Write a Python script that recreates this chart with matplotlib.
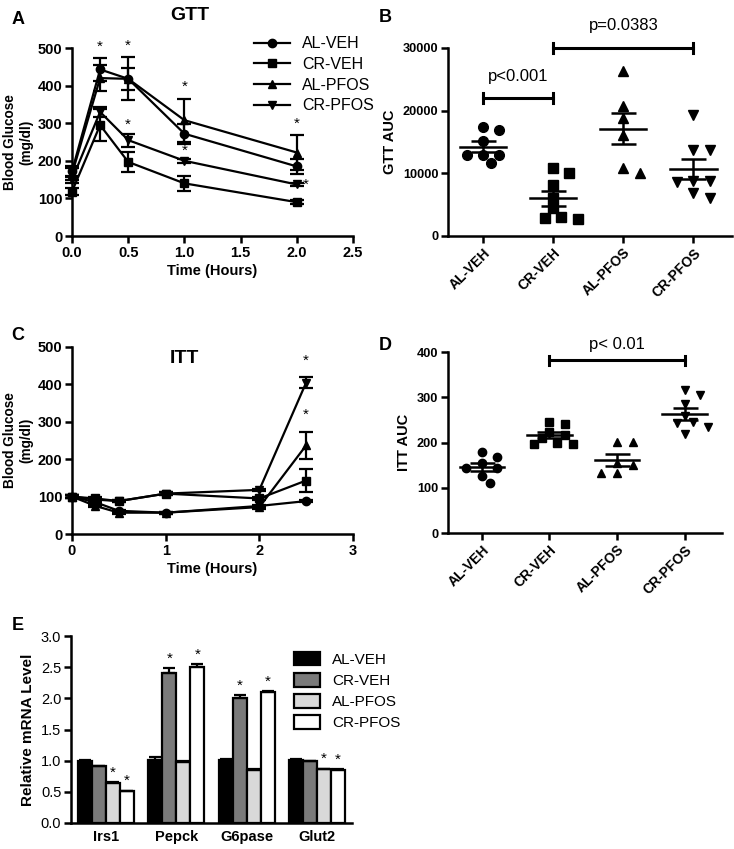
import numpy as np
import matplotlib.pyplot as plt
from matplotlib.lines import Line2D
from matplotlib.patches import Patch

plt.rcParams['font.family'] = ['Liberation Sans', 'DejaVu Sans']

groups = ['AL-VEH', 'CR-VEH', 'AL-PFOS', 'CR-PFOS']
markers = ['o', 's', '^', 'v']

# GTT (panel A)
gtt_time = [0, 0.25, 0.5, 1.0, 2.0]
gtt_mean = {
    'AL-VEH': [172, 443, 418, 272, 185],
    'CR-VEH': [118, 295, 197, 140, 90],
    'AL-PFOS': [165, 420, 418, 308, 222],
    'CR-PFOS': [150, 330, 255, 200, 137],
}
gtt_err = {
    'AL-VEH': [15, 30, 30, 27, 20],
    'CR-VEH': [10, 42, 27, 20, 5],
    'AL-PFOS': [15, 35, 57, 57, 46],
    'CR-PFOS': [10, 13, 17, 5, 5],
}

# ITT (panel C)
itt_time = [0, 0.25, 0.5, 1.0, 2.0, 2.5]
itt_mean = {
    'AL-VEH': [100, 85, 62, 57, 75, 88],
    'CR-VEH': [100, 95, 88, 108, 95, 143],
    'AL-PFOS': [100, 75, 57, 57, 72, 237],
    'CR-PFOS': [100, 92, 88, 108, 118, 405],
}
itt_err = {
    'AL-VEH': [3, 3, 3, 3, 3, 3],
    'CR-VEH': [3, 3, 3, 3, 5, 30],
    'AL-PFOS': [3, 3, 3, 3, 4, 37],
    'CR-PFOS': [3, 3, 3, 3, 3, 15],
}

# GTT AUC (panel B)
gtt_auc = {
    'AL-VEH': [17400, 16900, 15100, 12900, 13000, 12900, 11700],
    'CR-VEH': [10800, 10000, 8150, 6130, 4420, 3090, 2660, 2820],
    'AL-PFOS': [26270, 20780, 18810, 16150, 10020, 10820],
    'CR-PFOS': [19300, 13800, 13800, 8800, 8600, 8800, 6000, 6800],
}

# ITT AUC (panel D)
itt_auc = {
    'AL-VEH': [169, 180, 143, 143, 154, 126, 110],
    'CR-VEH': [241, 246, 224, 216, 198, 197, 197, 210],
    'AL-PFOS': [202, 202, 151, 154, 132, 132],
    'CR-PFOS': [316, 306, 284, 258, 243, 245, 234, 218],
}

# mRNA (panel E)
genes = ['Irs1', 'Pepck', 'G6pase', 'Glut2']
mrna_mean = {
    'AL-VEH': [1.00, 1.01, 1.01, 1.01],
    'CR-VEH': [0.91, 2.40, 2.01, 0.99],
    'AL-PFOS': [0.64, 0.98, 0.85, 0.86],
    'CR-PFOS': [0.51, 2.50, 2.10, 0.85],
}
mrna_err = {
    'AL-VEH': [0.01, 0.05, 0.01, 0.01],
    'CR-VEH': [0.01, 0.08, 0.04, 0.01],
    'AL-PFOS': [0.01, 0.02, 0.01, 0.01],
    'CR-PFOS': [0.01, 0.05, 0.01, 0.01],
}
mrna_star = {
    'AL-VEH': [0, 0, 0, 0],
    'CR-VEH': [0, 1, 1, 0],
    'AL-PFOS': [1, 0, 0, 1],
    'CR-PFOS': [1, 1, 1, 1],
}
bar_colors = ['black', '#7a7a7a', '#d9d9d9', 'white']

LW = 1.8


def style_axes(ax, bold_ticks=True, size=9):
    for s in ['top', 'right']:
        ax.spines[s].set_visible(False)
    for s in ['left', 'bottom']:
        ax.spines[s].set_linewidth(LW)
    ax.tick_params(width=LW, length=5, labelsize=size, pad=2)
    if bold_ticks:
        for lab in ax.get_xticklabels() + ax.get_yticklabels():
            lab.set_fontweight('bold')


def swarm(vals, ymax, h_px, w_px, size_px=9):
    vals = np.asarray(vals, float)
    order = np.argsort(vals)[::-1]
    placed = []
    offs = np.zeros(len(vals))
    for i in order:
        y = vals[i] / ymax * h_px
        for k in [0, 1, -1, 2, -2, 3, -3, 4, -4]:
            x = k * size_px * 0.9
            if all(np.hypot(x - px, y - py) >= size_px * 1.1 for px, py in placed):
                break
        placed.append((x, y))
        offs[i] = x / w_px
    return offs


def bracket(ax, x0, x1, y, text, ty):
    ax.plot([x0, x1], [y, y], color='black', lw=2.2, clip_on=False)
    h = ax.get_ylim()[1] * 0.025
    for xx in (x0, x1):
        ax.plot([xx, xx], [y - h, y + h], color='black', lw=2.2, clip_on=False)
    ax.text((x0 + x1) / 2, ty, text, ha='center', va='bottom', fontsize=12, clip_on=False)


def dot_panel(ax, data, ymax, h_px, msize):
    for i, g in enumerate(groups):
        v = np.array(data[g], float)
        offs = swarm(v, ymax, h_px, 70)
        ax.plot(i + offs, v, linestyle='none', marker=markers[i], color='black',
                markersize=msize, clip_on=False)
        m = v.mean()
        sem = v.std(ddof=1) / np.sqrt(len(v))
        ax.plot([i - 0.33, i + 0.33], [m, m], color='black', lw=1.8)
        ax.errorbar(i, m, yerr=sem, color='black', capsize=9, elinewidth=1.8,
                    capthick=1.8, fmt='none')
    ax.set_xticks(range(4))
    ax.set_xticklabels(groups, rotation=45, ha='right', rotation_mode='anchor')
    ax.set_xlim(-0.5, 3.55)
    ax.set_ylim(0, ymax)


fig = plt.figure(figsize=(7.34, 8.49), dpi=100)
W, H = 734.0, 849.0


def add_ax(x0, y0, x1, y1):
    return fig.add_axes([x0 / W, 1 - y1 / H, (x1 - x0) / W, (y1 - y0) / H])


# ---- A
axA = add_ax(72, 48, 353, 236)
for i, g in enumerate(groups):
    axA.errorbar(gtt_time, gtt_mean[g], yerr=gtt_err[g], color='black', marker=markers[i],
                 markersize=6, lw=1.6, capsize=5, elinewidth=1.6, capthick=1.6, clip_on=False)
axA.set_xlim(0, 2.5)
axA.set_ylim(0, 500)
axA.set_xticks(np.arange(0, 2.51, 0.5))
axA.set_yticks(range(0, 501, 100))
axA.set_xticklabels(['%.1f' % t for t in np.arange(0, 2.51, 0.5)])
axA.set_xlabel('Time (Hours)', fontweight='bold', fontsize=10.5, labelpad=3)
axA.set_ylabel('Blood Glucose\n(mg/dl)', fontweight='bold', fontsize=9.8, labelpad=3)
style_axes(axA, size=10.5)
top_a = np.max([np.array(gtt_mean[g]) + np.array(gtt_err[g]) for g in ['AL-VEH', 'AL-PFOS']], axis=0)
for j in [1, 2, 3, 4]:
    axA.text(gtt_time[j], top_a[j] + 12, '*', ha='center', va='bottom', fontsize=11)
cr = np.array(gtt_mean['CR-PFOS']) + np.array(gtt_err['CR-PFOS'])
for j in [2, 3]:
    axA.text(gtt_time[j], cr[j] + 4, '*', ha='center', va='bottom', fontsize=11)
axA.text(gtt_time[4] + 0.08, gtt_mean['CR-PFOS'][4] - 20, '*', ha='center', va='bottom', fontsize=11)
handles = [Line2D([], [], color='black', marker=markers[i], markersize=6, lw=1.6) for i in range(4)]
fig.legend(handles, groups, loc='upper left', bbox_to_anchor=(240 / W, 1 - 22 / H), frameon=False,
           fontsize=11.5, handlelength=2.2, labelspacing=0.35, handletextpad=0.8)
fig.text(190 / W, 1 - 15 / H, 'GTT', fontsize=14, fontweight='bold', ha='center', va='center')

# ---- B
axB = add_ax(448, 48, 732, 236)
dot_panel(axB, gtt_auc, 30000, 188, 7)
axB.set_yticks([0, 10000, 20000, 30000])
axB.set_ylabel('GTT AUC', fontweight='bold', fontsize=10.5)
style_axes(axB, size=9.2)
for lab in axB.get_xticklabels():
    lab.set_fontsize(10)
bracket(axB, 0, 1, 22000, 'p<0.001', 24300)
bracket(axB, 1, 3, 30000, 'p=0.0383', 32400)

# ---- C
axC = add_ax(72, 347, 353, 534)
for i, g in enumerate(groups):
    axC.errorbar(itt_time, itt_mean[g], yerr=itt_err[g], color='black', marker=markers[i],
                 markersize=6, lw=1.6, capsize=5, elinewidth=1.6, capthick=1.6, clip_on=False)
axC.set_xlim(0, 3)
axC.set_ylim(0, 500)
axC.set_xticks([0, 1, 2, 3])
axC.set_yticks(range(0, 501, 100))
axC.set_xlabel('Time (Hours)', fontweight='bold', fontsize=10.5, labelpad=3)
axC.set_ylabel('Blood Glucose\n(mg/dl)', fontweight='bold', fontsize=9.8, labelpad=3)
style_axes(axC, size=10.5)
for g in ['AL-PFOS', 'CR-PFOS']:
    axC.text(itt_time[-1], itt_mean[g][-1] + itt_err[g][-1] + 25, '*', ha='center', va='bottom', fontsize=11)
axC.text(0.4, 0.94, 'ITT', transform=axC.transAxes, fontsize=14, fontweight='bold', ha='center', va='center')

# ---- D
axD = add_ax(448, 352, 722, 533)
dot_panel(axD, itt_auc, 400, 181, 6)
axD.set_yticks(range(0, 401, 100))
axD.set_ylabel('ITT AUC', fontweight='bold', fontsize=10.5)
style_axes(axD, size=9.2)
for lab in axD.get_xticklabels():
    lab.set_fontsize(10)
bracket(axD, 1, 3, 382, 'p< 0.01', 400)

# ---- E
axE = add_ax(71, 636, 352, 823)
x = np.arange(len(genes))
bw = 0.2
for i, g in enumerate(groups):
    pos = x + (i - 1.5) * bw
    m = np.array(mrna_mean[g])
    e = np.array(mrna_err[g])
    axE.bar(pos, m, width=bw, color=bar_colors[i], edgecolor='black', linewidth=1.6, label=g)
    axE.errorbar(pos, m, yerr=[np.zeros_like(e), e], fmt='none', ecolor='black',
                 capsize=4, elinewidth=1.6, capthick=1.6)
    for p, mm, ee, s in zip(pos, m, e, mrna_star[g]):
        if s:
            axE.text(p, mm + ee + 0.04, '*', ha='center', va='bottom', fontsize=11)
axE.set_xlim(-0.5, 3.5)
axE.set_ylim(0, 3.0)
axE.set_yticks(np.arange(0, 3.01, 0.5))
axE.set_yticklabels(['%.1f' % t for t in np.arange(0, 3.01, 0.5)])
axE.set_xticks(x)
axE.set_xticklabels(genes)
axE.set_ylabel('Relative mRNA Level', fontweight='bold', fontsize=11)
style_axes(axE, bold_ticks=False, size=10.5)
axE.tick_params(axis='x', length=0, pad=5)
for lab in axE.get_xticklabels():
    lab.set_fontweight('bold')
    lab.set_fontsize(10.5)
handlesE = [Patch(facecolor=bar_colors[i], edgecolor='black', linewidth=1.6) for i in range(4)]
fig.legend(handlesE, groups, loc='upper left', bbox_to_anchor=(280 / W, 1 - 638 / H), frameon=False,
           fontsize=11, handlelength=1.7, handleheight=1.0, labelspacing=0.4, handletextpad=0.8)

# panel letters
for lab, (px, py) in zip('ABCDE', [(18, 20), (385, 18), (18, 336), (385, 345), (18, 625)]):
    fig.text(px / W, 1 - py / H, lab, fontsize=13, fontweight='bold', ha='center', va='center')

fig.savefig('out.png', dpi=100)
